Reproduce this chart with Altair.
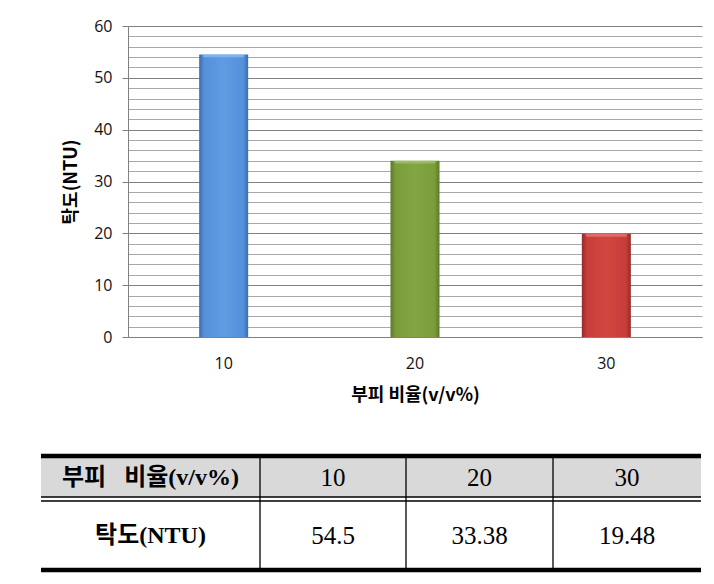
import altair as alt
import pandas as pd

# ---------------- data ----------------
categories = ["10", "20", "30"]              # 부피 비율 (v/v%)
bar_values = [54.5, 34.0, 19.9]              # bar heights
y_tick_values = list(range(0, 61, 2))        # major every 10, minor every 2
table_header = ["부피\u00a0\u00a0\u00a0비율(v/v%)", "10", "20", "30"]
table_row = ["탁도(NTU)", "54.5", "33.38", "19.48"]

# ---------------- styles / layout ----------------
KR = "Noto Sans CJK KR"
LABEL_FONT = "Open Sans"
SERIF = "Liberation Serif, Noto Sans CJK KR"
MAJOR = "#808080"
MINOR = "#a8a8a8"

bar_colors = {
    "10": ("#3a6bb0", "#5590da", "#5e9ce2", "#8dbcf0"),
    "20": ("#5a7a28", "#7a9c3b", "#83a644", "#a6c46a"),
    "30": ("#962a27", "#c63e3a", "#d2463f", "#e47a74"),
}

# plot area (window pixel coords): x 128..702, y 26..337
PX0, PX1, PY0, PY1 = 128, 702, 26, 337
COL_EDGES = [41, 260, 406, 553, 701]
HEAD_TOP, HEAD_BOT, BODY_BOT = 456, 497, 570

df = pd.DataFrame({"ratio": categories, "ntu": bar_values})

xs = alt.Scale(domain=categories, paddingInner=0, paddingOuter=0)
ys = alt.Scale(domain=[0, 60], nice=False, zero=True)

is_major = "datum.value % 10 === 0"

y_axis = alt.Axis(
    values=y_tick_values,
    title="탁도(NTU)",
    titleFont=KR,
    titleFontSize=18,
    titleFontWeight="bold",
    titleColor="#000000",
    titlePadding=13,
    labelExpr="datum.value % 10 === 0 ? datum.label : ''",
    labelFont=LABEL_FONT,
    labelFontSize=16,
    labelColor="#111111",
    labelPadding=10,
    tickSize=6,
    tickColor=MAJOR,
    tickOpacity={"condition": {"test": is_major, "value": 1}, "value": 0},
    grid=True,
    gridColor={"condition": {"test": is_major, "value": MAJOR}, "value": MINOR},
    gridWidth=1,
    domainColor=MAJOR,
)
x_axis = alt.Axis(
    title="부피 비율(v/v%)",
    titleFont=KR,
    titleFontSize=18,
    titleFontWeight="bold",
    titleColor="#000000",
    titlePadding=15,
    labelFont=LABEL_FONT,
    labelFontSize=16,
    labelColor="#111111",
    labelAngle=0,
    labelPadding=18,
    ticks=False,
    domainColor=MAJOR,
    grid=False,
)


def gradient(dark, mid, light):
    return alt.Gradient(
        gradient="linear",
        x1=0, x2=1, y1=0, y2=0,
        stops=[
            alt.GradientStop(color=dark, offset=0),
            alt.GradientStop(color=mid, offset=0.1),
            alt.GradientStop(color=light, offset=0.5),
            alt.GradientStop(color=mid, offset=0.9),
            alt.GradientStop(color=dark, offset=1),
        ],
    )


bar_layers = []
for i, cat in enumerate(categories):
    d, m, l, hi = bar_colors[cat]
    body = (
        alt.Chart()
        .mark_bar(size=49, fill=gradient(d, m, l))
        .transform_filter(alt.datum.ratio == cat)
        .encode(
            x=alt.X("ratio:N", scale=xs, axis=x_axis, sort=categories),
            y=alt.Y("ntu:Q", scale=ys, axis=y_axis),
        )
    )
    bevel = (
        alt.Chart()
        .mark_bar(size=41, fill=hi, opacity=0.75)
        .transform_filter(alt.datum.ratio == cat)
        .transform_calculate(bevel_low="datum.ntu - 0.55")
        .encode(
            x=alt.X("ratio:N", scale=xs, axis=x_axis, sort=categories),
            y=alt.Y("ntu:Q", scale=ys, axis=y_axis),
            y2="bevel_low:Q",
        )
    )
    bar_layers += [body, bevel]

bars = alt.layer(*bar_layers, data=df)

# ---------------- table (drawn below the plot, pixel scales) ----------------
tx = alt.Scale(domain=[PX0, PX1], nice=False, zero=False)
ty = alt.Scale(domain=[PY0, PY1], nice=False, zero=False, reverse=True)

head_bg = pd.DataFrame({"x": [COL_EDGES[0]], "x2": [COL_EDGES[-1]],
                        "y": [HEAD_TOP], "y2": [HEAD_BOT]})
bg = alt.Chart(head_bg).mark_rect(fill="#d9d9d9").encode(
    x=alt.X("x:Q", scale=tx, axis=None),
    x2="x2",
    y=alt.Y("y:Q", scale=ty, axis=None),
    y2="y2",
)

lines = []
lines.append((COL_EDGES[0], COL_EDGES[-1], HEAD_TOP, HEAD_TOP, 4.5))
lines.append((COL_EDGES[0], COL_EDGES[-1], HEAD_BOT, HEAD_BOT, 1.5))
lines.append((COL_EDGES[0], COL_EDGES[-1], HEAD_BOT + 4, HEAD_BOT + 4, 1.5))
lines.append((COL_EDGES[0], COL_EDGES[-1], BODY_BOT, BODY_BOT, 4.5))
for xe in COL_EDGES[1:-1]:
    lines.append((xe, xe, HEAD_TOP, BODY_BOT, 1.3))
lines_df = pd.DataFrame(lines, columns=["x", "x2", "y", "y2", "w"])
rules = alt.Chart(lines_df).mark_rule(color="#000000").encode(
    x=alt.X("x:Q", scale=tx, axis=None),
    x2="x2",
    y=alt.Y("y:Q", scale=ty, axis=None),
    y2="y2",
    strokeWidth=alt.StrokeWidth("w:Q", scale=None),
)

centers = [(COL_EDGES[i] + COL_EDGES[i + 1]) / 2 for i in range(4)]
head_y = (HEAD_TOP + HEAD_BOT) / 2 + 1
body_y = (HEAD_BOT + 4 + BODY_BOT) / 2
cells = pd.DataFrame({
    "x": centers + centers,
    "y": [head_y] * 4 + [body_y] * 4,
    "t": table_header + table_row,
    "first": [True, False, False, False] * 2,
})

txt_first = alt.Chart(cells).transform_filter("datum.first").mark_text(
    font=SERIF, fontSize=24, fontWeight="bold", color="#000000", baseline="middle", align="center"
).encode(
    x=alt.X("x:Q", scale=tx, axis=None),
    y=alt.Y("y:Q", scale=ty, axis=None),
    text="t:N",
)
txt_num = alt.Chart(cells).transform_filter("!datum.first").mark_text(
    font=SERIF, fontSize=25, color="#000000", baseline="middle", align="center"
).encode(
    x=alt.X("x:Q", scale=tx, axis=None),
    y=alt.Y("y:Q", scale=ty, axis=None),
    text="t:N",
)

table = alt.layer(bg, rules, txt_first, txt_num)

chart = (
    alt.layer(bars, table)
    .resolve_scale(x="independent", y="independent")
    .properties(
        width=PX1 - PX0,
        height=PY1 - PY0,
        autosize=alt.AutoSizeParams(type="none"),
        padding={"left": PX0, "top": PY0, "right": 714 - PX1, "bottom": 584 - PY1},
        background="#ffffff",
    )
    .configure_view(stroke=None)
)

chart.save("out.html", embed_options={"renderer": "svg", "actions": False})
